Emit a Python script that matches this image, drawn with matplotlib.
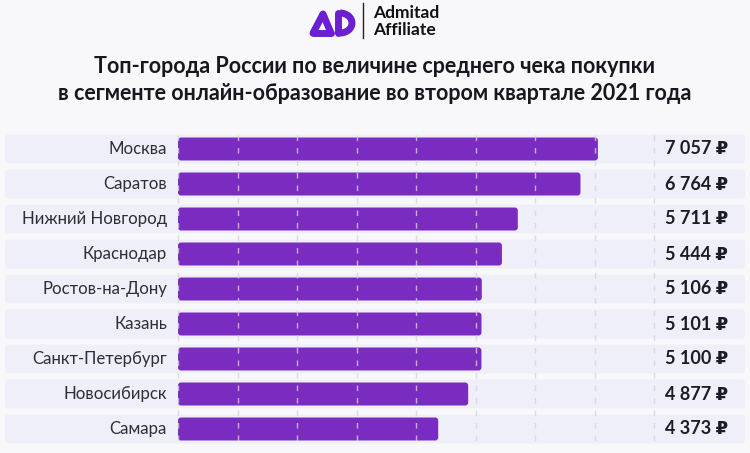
import numpy as np
import matplotlib
matplotlib.use('Agg')
import matplotlib.pyplot as plt
from matplotlib.patches import FancyBboxPatch, Arc

cities = ['Москва', 'Саратов', 'Нижний Новгород', 'Краснодар', 'Ростов-на-Дону',
          'Казань', 'Санкт-Петербург', 'Новосибирск', 'Самара']
values = [7057, 6764, 5711, 5444, 5106, 5101, 5100, 4877, 4373]
grid_ticks = [0, 1000, 2000, 3000, 4000, 5000, 6000, 7000, 8000]
title = ('Топ-города России по величине среднего чека покупки\n'
         'в сегменте онлайн-образование во втором квартале 2021 года')

W, H = 750, 453
BG = '#f8f8fa'
ROW = '#efeffa'
BAR = '#7a2cc0'
FONT = ['Lato', 'DejaVu Sans']

plt.rcParams['font.family'] = FONT
fig = plt.figure(figsize=(W / 100, H / 100), dpi=100, facecolor=BG)

# main axes, placed in pixels: rows 5..745 px wide, centres at 149 + 35*i
s = 476 / 8000.0          # px per rub
x0 = 178                  # px of zero
ax = fig.add_axes([5 / W, 1 - 446.5 / H, 740 / W, 315 / H])
ax.set_xlim(-(x0 - 5) / s, (745 - x0) / s)
ax.set_ylim(len(cities) - 0.5, -0.5)
ax.axis('off')

ux = 1 / s                # data units per px in x
uy = 1 / 35.0             # data units per px in y
asp = uy / ux

for i, (c, v) in enumerate(zip(cities, values)):
    xl = -(x0 - 5) / s
    row = FancyBboxPatch((xl, i - 14.5 * uy), 740 * ux, 29 * uy,
                         boxstyle=f'round,pad=0,rounding_size={4 * ux}',
                         mutation_aspect=asp, fc=ROW, ec='none', zorder=1)
    ax.add_patch(row)
    bar = FancyBboxPatch((0, i - 11.5 * uy), v, 23 * uy,
                         boxstyle=f'round,pad=0,rounding_size={3 * ux}',
                         mutation_aspect=asp, fc=BAR, ec='none', zorder=2)
    ax.add_patch(bar)
    ax.text(-11 * ux, i, c, ha='right', va='center', fontsize=12.1,
            color='#2e2e38', zorder=4)
    lab = f'{v:,}'.replace(',', ' ') + ' ₽'
    ax.text((728 - x0) * ux, i, lab, ha='right', va='center', fontsize=13,
            fontweight='bold', color='#1c1c28', zorder=4,
            family=['Lato', 'DejaVu Sans'])

ax.vlines(grid_ticks, -14.5 * uy, len(cities) - 1 + 14.5 * uy,
          colors='#d4d4dc', linestyles=(0, (4, 5)), linewidth=1, alpha=0.8, zorder=3)

fig.text(0.5, 1 - 80 / H, title, ha='center', va='center', fontsize=15.5,
         fontweight='bold', color='#17171f', linespacing=1.3)

# logo
lg = fig.add_axes([0, 0, 1, 1])
lg.set_xlim(0, W)
lg.set_ylim(H, 0)
lg.axis('off')
lg.plot([313, 323, 331], [33, 14, 33], color='#6b1fd0', lw=5,
        solid_capstyle='round', solid_joinstyle='round')
lg.plot([313, 331], [33, 33], color='#6b1fd0', lw=5, solid_capstyle='round')
lg.plot([338, 338], [13, 33], color='#6b1fd0', lw=5, solid_capstyle='round')
lg.add_patch(Arc((340, 23), 24, 20, theta1=-90, theta2=90, color='#6b1fd0', lw=5))
lg.plot([363, 363], [3, 38], color='#222222', lw=1)
lg.text(373, 13, 'Admitad', ha='left', va='center', fontsize=12.5,
        fontweight='bold', color='#111111')
lg.text(373, 30, 'Affiliate', ha='left', va='center', fontsize=12.5,
        fontweight='bold', color='#111111')

fig.savefig('out.png', dpi=100, facecolor=BG)
